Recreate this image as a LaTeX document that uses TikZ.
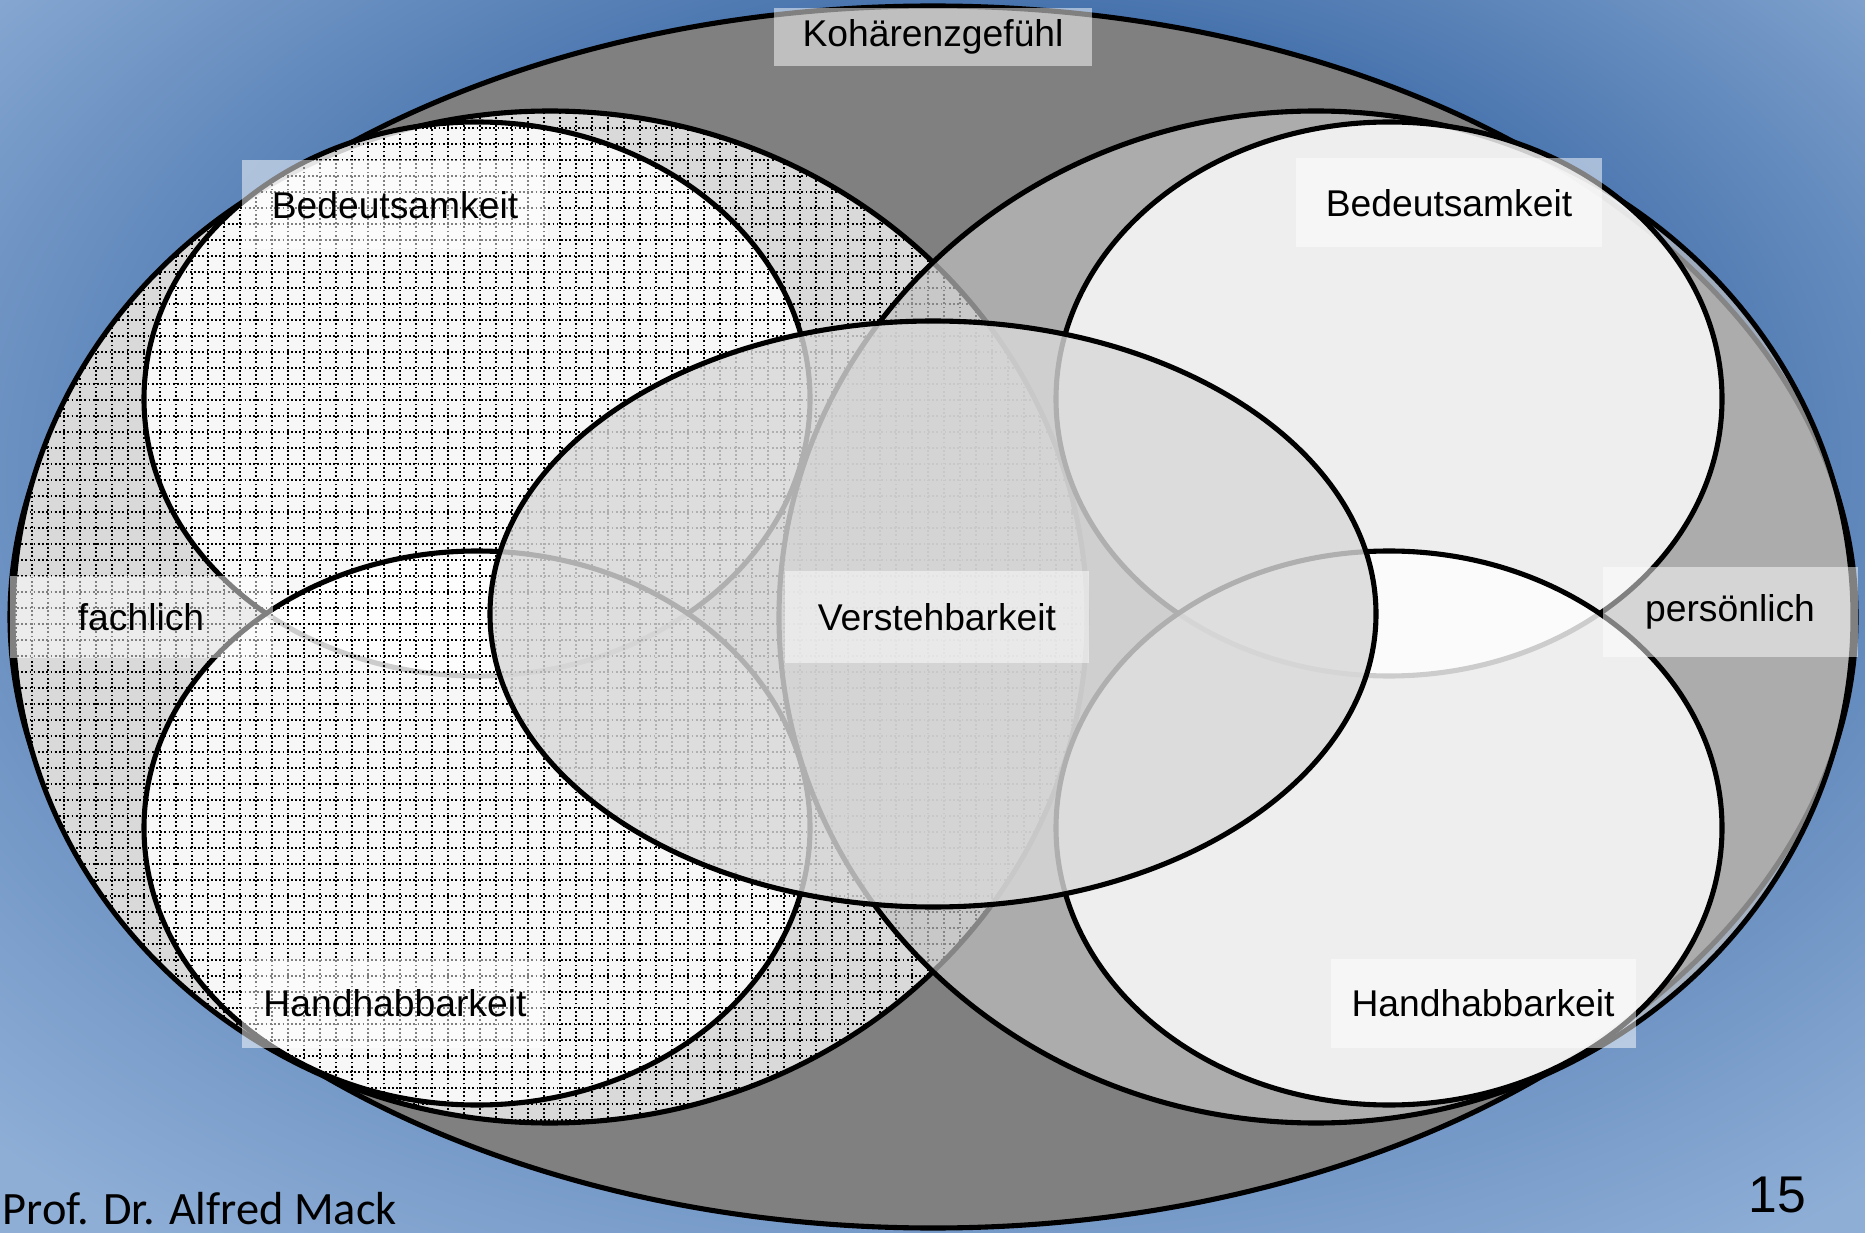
\documentclass[tikz,border=0pt]{standalone}
\usepackage{fontspec}
\setmainfont{Liberation Sans}
\newfontfamily\slidefont{Carlito}

\definecolor{bgdark}{HTML}{3A68A5}
\definecolor{bglight}{HTML}{8EAED6}
\definecolor{outergray}{HTML}{808080}
\definecolor{fachgray}{HTML}{D9D9D9}
\definecolor{persgray}{HTML}{C1C1C1}
\definecolor{verstgray}{HTML}{D8D8D8}

\pgfdeclareradialshading{slidebg}{\pgfpoint{3bp}{12bp}}{%
  color(0bp)=(bgdark); color(13bp)=(bgdark);
  color(36bp)=(bglight); color(50bp)=(bglight)}

\tikzset{%
  ring/.style={draw=black, line width=1.45pt},
  dotgrid/.style={black, line width=0.5pt, dash pattern=on 0.5pt off 0.7pt, step=0.16},
  lbl/.style={fill=white, fill opacity=0.5, text opacity=1, inner sep=0pt,
              font=\fontsize{10.6}{12}\selectfont},
  outer size/.style={x radius=9.23, y radius=6.11},
  mid size/.style={x radius=5.37, y radius=5.06},
  small size/.style={x radius=3.33, y radius=2.77},
  centre size/.style={x radius=4.43, y radius=2.93},
}

\begin{document}
\begin{tikzpicture}[scale = 1]

    \useasboundingbox (0,0) rectangle (18.65,12.32);
    \shade[shading=slidebg] (0,0) rectangle (18.65,12.32);

    % Define the centres of the ellipses
    \coordinate (K) at (9.33,6.15);
    \coordinate (F) at (5.50,6.15);
    \coordinate (P) at (13.16,6.15);
    \coordinate (FB) at (4.77,8.33);
    \coordinate (FH) at (4.77,4.04);
    \coordinate (PB) at (13.89,8.33);
    \coordinate (PH) at (13.89,4.04);
    \coordinate (V) at (9.33,6.18);

    %outer ellipse
    \draw[ring, fill=outergray] (K) ellipse [outer size];

    %fachlich
    \fill[fachgray] (F) ellipse [mid size];
    \begin{scope}
      \clip (F) ellipse [mid size];
      \draw[dotgrid] (0,0) grid (11,12.32);
    \end{scope}
    \draw[ring] (F) ellipse [mid size];

    %persoenlich
    \draw[ring, fill=persgray, fill opacity=0.69] (P) ellipse [mid size];

    %small ellipses, left side
    \foreach \c in {FB,FH}{
      \fill[white, fill opacity=0.8] (\c) ellipse [small size];
      \begin{scope}
        \clip (\c) ellipse [small size];
        \draw[dotgrid] (0,0) grid (11,12.32);
      \end{scope}
      \draw[ring] (\c) ellipse [small size];
    }

    %small ellipses, right side
    \draw[ring, fill=white, fill opacity=0.8] (PB) ellipse [small size];
    \draw[ring, fill=white, fill opacity=0.8] (PH) ellipse [small size];

    %Verstehbarkeit
    \draw[ring, fill=verstgray, fill opacity=0.81] (V) ellipse [centre size];

    % labels
    \node[lbl, minimum width=3.18cm, minimum height=0.58cm] (koh) at (9.33,11.95) {Kohärenzgefühl};
    \node[lbl, minimum width=3.06cm, minimum height=0.89cm] (bedF) at (3.95,10.27) {Bedeutsamkeit};
    \node[lbl, minimum width=3.06cm, minimum height=0.89cm] (bedP) at (14.49,10.29) {Bedeutsamkeit};
    \node[lbl, minimum width=2.63cm, minimum height=0.82cm] (fach) at (1.41,6.15) {fachlich};
    \node[lbl, minimum width=2.55cm, minimum height=0.90cm] (pers) at (17.30,6.20) {persönlich};
    \node[lbl, minimum width=3.04cm, minimum height=0.91cm] (verst) at (9.37,6.15) {Verstehbarkeit};
    \node[lbl, minimum width=3.06cm, minimum height=0.89cm] (handF) at (3.95,2.29) {Handhabbarkeit};
    \node[lbl, minimum width=3.05cm, minimum height=0.89cm] (handP) at (14.83,2.29) {Handhabbarkeit};

    % footer
    \node[anchor=base west, inner sep=0pt, font=\slidefont\fontsize{13.2}{15}\selectfont] (author) at (0.02,0.08) {Prof. Dr. Alfred Mack};
    \node[anchor=base, inner sep=0pt, font=\fontsize{14.7}{17}\selectfont] (page) at (17.77,0.20) {15};

\end{tikzpicture}
\end{document}
